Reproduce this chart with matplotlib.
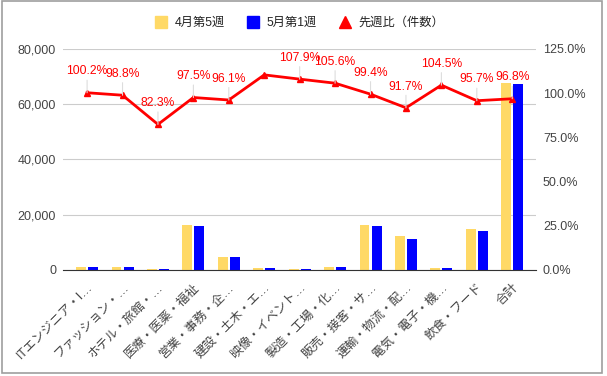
import matplotlib
matplotlib.use('Agg')
import numpy as np
import matplotlib.pyplot as plt
from matplotlib.lines import Line2D
from matplotlib.patches import Rectangle

plt.rcParams['font.family'] = ['Liberation Sans', 'Noto Sans CJK JP', 'DejaVu Sans']

# Data
categories = [
    'ITエンジニア・I…', 'ファッション・…', 'ホテル・旅館・…', '医療・医薬・福祉',
    '営業・事務・企…', '建設・土木・エ…', '映像・イベント…', '製造・工場・化…',
    '販売・接客・サ…', '運輸・物流・配…', '電気・電子・機…', '飲食・フード', '合計',
]
week_apr5 = [1100, 1100, 350, 16400, 4700, 800, 290, 1100, 16100, 12300, 750, 14900, 67700]
week_may1 = [1100, 1090, 290, 16000, 4520, 860, 313, 1160, 16000, 11280, 780, 14260, 67350]
ratio_pct = [100.2, 98.8, 82.3, 97.5, 96.1, 110.3, 107.9, 105.6, 99.4, 91.7, 104.5, 95.7, 96.8]
series_names = ['4月第5週', '5月第1週', '先週比（件数）']

# label for 建設 is hidden in the original (collides with its neighbour)
ratio_labels = [f'{v:.1f}%' for v in ratio_pct]
ratio_labels[5] = ''

YELLOW = '#ffd966'
BLUE = '#0000ff'
RED = '#ff0000'
TEXT = '#444444'

fig = plt.figure(figsize=(6.07, 3.76), dpi=100)
ax = fig.add_axes([0.1038, 0.282, 0.7792, 0.588])

x = np.arange(len(categories))
ax.bar(x - 0.17, week_apr5, width=0.28, color=YELLOW, zorder=2)
ax.bar(x + 0.17, week_may1, width=0.28, color=BLUE, zorder=2)

ax.set_xlim(-0.68, len(categories) - 0.33)
ax.set_ylim(0, 80000)
ax.set_yticks(np.arange(0, 80001, 20000))
ax.yaxis.set_major_formatter(lambda v, p: f'{v:,.0f}')
ax.grid(axis='y', color='#cccccc', lw=0.8, zorder=0)
for s in ['top', 'right', 'left']:
    ax.spines[s].set_visible(False)
ax.spines['bottom'].set_color('#333333')
ax.tick_params(axis='both', length=0, labelsize=9, colors=TEXT)
ax.tick_params(axis='y', pad=5)
ax.tick_params(axis='x', pad=8)
ax.set_xticks(x)
ax.set_xticklabels(categories, rotation=45, ha='right', rotation_mode='anchor')

# ratio line on the secondary axis
ax2 = ax.twinx()
ax2.plot(x, ratio_pct, color=RED, lw=2, marker='^', ms=4.5, zorder=3)
ax2.set_ylim(0, 125)
ax2.set_yticks(np.arange(0, 126, 25))
ax2.yaxis.set_major_formatter(lambda v, p: f'{v:.1f}%')
for s in ax2.spines.values():
    s.set_visible(False)
ax2.tick_params(length=0, labelsize=9, colors=TEXT, pad=5)

for xi, v, lab in zip(x, ratio_pct, ratio_labels):
    if lab:
        ax2.annotate(lab, (xi, v), xytext=(0, 11), textcoords='offset points',
                     ha='center', va='bottom', color=RED, fontsize=8.7,
                     arrowprops=dict(arrowstyle='-', color='#dddddd', lw=0.8,
                                     shrinkA=0, shrinkB=0))

handles = [
    Line2D([], [], ls='', marker='s', ms=8, color=YELLOW),
    Line2D([], [], ls='', marker='s', ms=8, color=BLUE),
    Line2D([], [], ls='', marker='^', ms=8, color=RED),
]
leg = fig.legend(handles, series_names, loc='center', bbox_to_anchor=(0.493, 0.939),
                 ncol=3, frameon=False, fontsize=8.8, handlelength=1,
                 handletextpad=0.6, columnspacing=1.8)
for t in leg.get_texts():
    t.set_color('#222222')

# chart frame
fig.patches.append(Rectangle((0.0025, 0.008), 0.9885, 0.989, transform=fig.transFigure,
                             fill=False, ec='#9e9e9e', lw=1.2))

fig.savefig('out.png', dpi=100)
